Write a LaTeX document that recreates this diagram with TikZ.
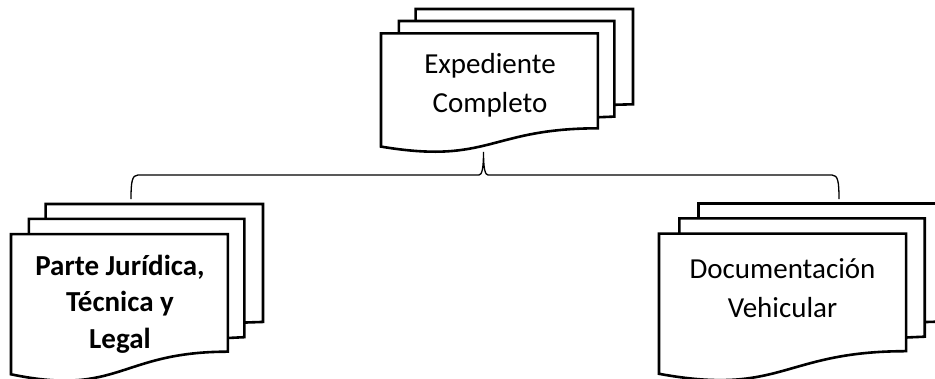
\documentclass[tikz,border=0pt]{standalone}
\usepackage{fontspec}
\setmainfont{Carlito}
\newcommand{\multidoc}[5]{%
  % #1 name, #2 x, #3 y, #4 width, #5 height (px); path units: 216 = full size
  \begin{scope}[shift={(#2,#3)}, xscale=#4/216, yscale=#5/216]
    \draw[docline] (29.72,18.15) -- (29.72,0) -- (216,0) -- (216,143.92) -- (200,144.67);
    \draw[docline] (15.32,36.75) -- (15.32,18.15) -- (200,18.15) -- (200,162.52) -- (185.95,163.52);
    \draw[docline] (0,207.82) .. controls (92.98,235.42) and (92.98,180.22) .. (185.95,180.22)
      -- (185.95,36.75) -- (0,36.75) -- cycle;
    \coordinate (#1-top) at (92.98,36.75);
    \coordinate (#1-bot) at (92.98,205);
  \end{scope}}
\tikzset{
  docline/.style={line width=2.6pt, fill=white, line join=miter},
  bracket/.style={line width=1.3pt},
  doctext/.style={align=center, inner sep=0pt, font=\fontsize{29}{39}\selectfont},
  doctextbold/.style={align=center, inner sep=0pt, font=\fontsize{29}{36.5}\selectfont\bfseries},
}
\begin{document}
\begin{tikzpicture}[x=1pt,y=-1pt]
  \useasboundingbox (0,0) rectangle (935,378);
  \clip (0,0) rectangle (935,378);
  \fill[white] (0,0) rectangle (935,378);
  \multidoc{topdoc}{381}{9}{252}{143}
  \multidoc{leftdoc}{11}{204}{252}{177}
  \multidoc{rightdoc}{659}{203.5}{287}{177}
  \node[doctext] (toptext) at (490,85.6) {Expediente\\Completo};
  \node[doctextbold] (lefttext) at (120,304) {Parte Jurídica,\\Técnica y\\Legal};
  \node[doctext] (righttext) at (782.5,288) {Documentación\\Vehicular};
  \coordinate (tip) at (483.5,152);
  \coordinate (lend) at (131,199);
  \coordinate (rend) at (839,199);
  \draw[bracket] (lend) .. controls (131,182) and (132,175) .. (138,175) -- (479,175)
    .. controls (482,175) and (483.5,168) .. (tip)
    .. controls (483.5,168) and (485,175) .. (488,175) -- (832,175)
    .. controls (838,175) and (839,182) .. (rend);
\end{tikzpicture}
\end{document}
